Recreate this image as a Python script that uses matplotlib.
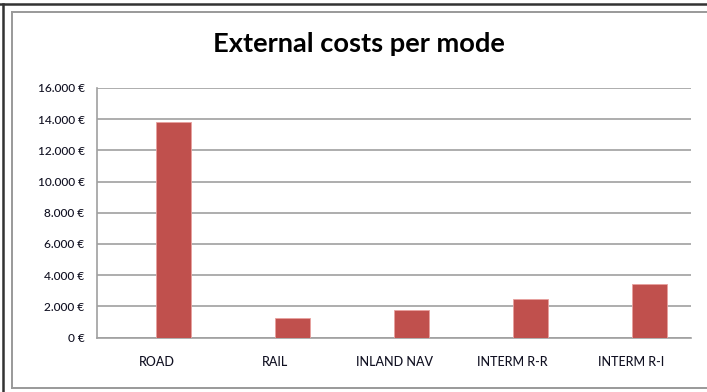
import matplotlib
matplotlib.use("Agg")
import matplotlib.pyplot as plt
from matplotlib.lines import Line2D
from matplotlib.ticker import FuncFormatter

modes = ["ROAD", "RAIL", "INLAND NAV", "INTERM R-R", "INTERM R-I"]
costs = [13850, 1230, 1780, 2500, 3420]
yticks = list(range(0, 16001, 2000))

plt.rcParams['font.family'] = ['Lato', 'DejaVu Sans']

fig = plt.figure(figsize=(7.07, 3.92), dpi=100)
ax = fig.add_axes([97 / 707, 1 - 337.5 / 392, 594 / 707, 249.5 / 392])

x = list(range(len(modes)))
ax.bar(x, costs, width=0.295, align='edge', color='#C0504D',
       edgecolor='#E8A09E', linewidth=0.6, zorder=3)

ax.set_xlim(-0.5, len(modes) - 0.5)
ax.set_ylim(0, 16000)
ax.set_yticks(yticks)
ax.yaxis.set_major_formatter(FuncFormatter(lambda v, p: f"{int(v):,}".replace(",", ".") + " €"))
ax.set_xticks(x)
ax.set_xticklabels(modes)

ax.grid(axis='y', color='#a0a0a0', linewidth=1.2, zorder=0)
for s in ['top', 'right']:
    ax.spines[s].set_visible(False)
for s in ['left', 'bottom']:
    ax.spines[s].set_color('#a0a0a0')
    ax.spines[s].set_linewidth(1.2)
ax.tick_params(axis='both', length=0, colors='#111122')
ax.tick_params(axis='y', pad=9, labelsize=8.6)
ax.tick_params(axis='x', pad=13, labelsize=9)
for lbl in ax.get_xticklabels() + ax.get_yticklabels():
    lbl.set_fontweight('medium')

fig.text(359 / 707, 1 - 44 / 392, "External costs per mode", ha='center', va='center',
         fontsize=19.6, fontweight='bold', color='black')

# chart frame lines
fig.add_artist(Line2D([0, 1], [1 - 4 / 392] * 2, color='#333333', linewidth=1.8, transform=fig.transFigure))
fig.add_artist(Line2D([3 / 707] * 2, [0, 1 - 4 / 392], color='#333333', linewidth=1.8, transform=fig.transFigure))
fig.add_artist(Line2D([12 / 707, 1], [1 - 12 / 392] * 2, color='#999999', linewidth=1.4, transform=fig.transFigure))
fig.add_artist(Line2D([12 / 707] * 2, [4 / 392, 1 - 12 / 392], color='#999999', linewidth=1.4, transform=fig.transFigure))
fig.add_artist(Line2D([12 / 707, 1], [4 / 392] * 2, color='#999999', linewidth=1.4, transform=fig.transFigure))

fig.savefig("out.png", dpi=100)
